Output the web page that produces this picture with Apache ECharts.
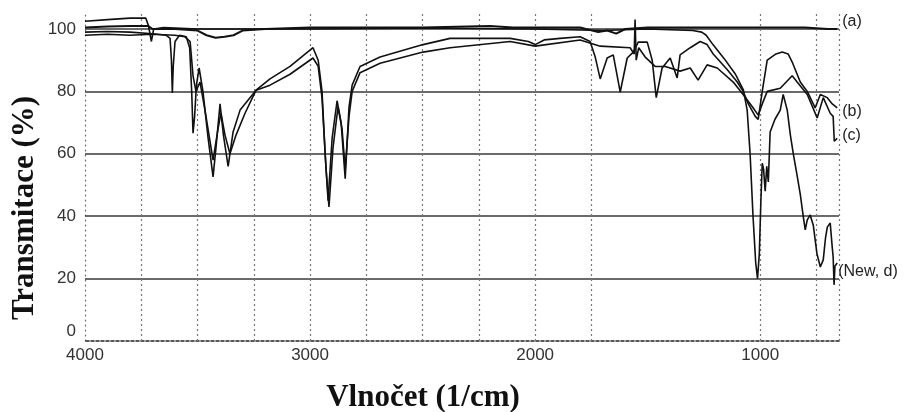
<!DOCTYPE html>
<html>
<head>
<meta charset="utf-8">
<script src="https://cdn.jsdelivr.net/npm/echarts@6/dist/echarts.min.js"></script>
<style>
  html, body { margin: 0; padding: 0; background: #fff; }
  #chart { width: 912px; height: 412px; }
</style>
</head>
<body>
<div id="chart"></div>
<script>
// IR spectra: [wavenumber (1/cm), transmittance (%)]
const curveA = [
  [4000, 100.5], [3900, 100.8], [3800, 101], [3720, 101], [3700, 100], [3600, 100],
  [3500, 99.5], [3460, 98], [3420, 97.2], [3380, 97.5], [3340, 98], [3300, 99.5],
  [3200, 100], [3000, 100.5], [2500, 100.5], [2200, 101], [2100, 100.5], [1800, 100.5],
  [1720, 99], [1680, 99.5], [1640, 98.5], [1600, 100], [1500, 100.5], [1250, 100.5],
  [1000, 100.5], [800, 100.5], [700, 100], [658, 100]
];
const curveB = [
  [4000, 99], [3900, 99.2], [3800, 99], [3700, 98.5], [3640, 98], [3622, 97], [3616, 90],
  [3612, 79.5], [3608, 88], [3600, 96], [3580, 98], [3550, 97.5], [3535, 94], [3526, 80],
  [3520, 66.6], [3513, 72], [3505, 82], [3493, 87.5], [3476, 80], [3453, 65], [3431, 52.6],
  [3418, 62], [3400, 76], [3385, 66], [3364, 56], [3342, 67], [3311, 74], [3267, 78],
  [3240, 80.4], [3178, 84], [3089, 88], [2987, 94], [2964, 90], [2947, 80], [2933, 60],
  [2920, 45], [2902, 65], [2880, 77], [2862, 70], [2844, 52], [2827, 75], [2813, 82],
  [2778, 88], [2689, 91], [2498, 95], [2378, 97], [2111, 97], [2030, 96], [2000, 95],
  [1960, 96.5], [1889, 97], [1800, 97.5], [1756, 96], [1733, 91], [1711, 84], [1680, 90.7],
  [1653, 91.7], [1622, 79.8], [1591, 90.7], [1564, 92.6], [1542, 95.8], [1502, 95.8],
  [1480, 90], [1462, 78], [1436, 87.5], [1400, 90.7], [1369, 84.3], [1356, 91.7],
  [1311, 94], [1267, 96], [1236, 95], [1209, 92], [1147, 87], [1102, 83], [1076, 80],
  [1053, 76], [1022, 72], [1009, 71], [991, 80], [969, 90], [930, 92], [902, 92.6],
  [876, 92], [858, 89.4], [822, 83], [791, 80], [756, 74.7], [733, 79], [702, 78],
  [680, 76], [658, 74.7]
];
const curveC = [
  [4000, 98], [3900, 98.3], [3800, 98], [3700, 98.3], [3600, 98], [3556, 97.5], [3533, 96],
  [3520, 85], [3507, 80], [3489, 83], [3467, 74], [3431, 58], [3409, 68], [3396, 73],
  [3378, 66], [3356, 60], [3329, 66], [3289, 73], [3240, 80.4], [3178, 82], [3089, 85.5],
  [2987, 90.7], [2964, 88], [2947, 78], [2929, 55], [2916, 43], [2898, 62], [2876, 75],
  [2858, 68], [2844, 55], [2827, 72], [2813, 80], [2778, 86], [2689, 89], [2498, 92.6],
  [2378, 94], [2111, 96], [2000, 94.5], [1800, 96.5], [1711, 94.5], [1578, 94], [1560, 92],
  [1556, 103], [1551, 90], [1540, 94], [1511, 91], [1467, 88], [1422, 88], [1356, 86.5],
  [1311, 87.5], [1276, 83.6], [1236, 88.5], [1191, 87.5], [1120, 83], [1076, 79],
  [1031, 74.7], [1009, 72.4], [991, 76], [969, 80], [911, 81], [858, 85], [836, 83],
  [791, 79], [747, 71.5], [720, 78], [689, 73], [676, 72], [671, 64], [658, 65]
];
const curveD = [
  [4000, 102.5], [3900, 103], [3800, 103.5], [3730, 103.5], [3718, 101], [3705, 96],
  [3695, 100], [3650, 100.5], [3500, 100], [3300, 100], [3000, 100], [2500, 100.3],
  [2000, 100], [1700, 99.5], [1500, 100], [1300, 99.5], [1260, 99], [1240, 98], [1210, 95],
  [1160, 90.5], [1110, 85.5], [1075, 80.5], [1058, 74], [1045, 60], [1032, 40], [1020, 25],
  [1012, 20], [1004, 28], [997, 45], [991, 57], [985, 55], [978, 48], [971, 56], [964, 51],
  [956, 67], [935, 71], [911, 74], [898, 79], [880, 74], [866, 66], [853, 60], [836, 53],
  [822, 47], [809, 40], [800, 35.6], [791, 38.8], [778, 40.4], [764, 37], [748, 28],
  [733, 23.7], [720, 26], [710, 33], [702, 36.5], [689, 37.8], [680, 30], [676, 27],
  [672, 18], [668, 24], [658, 25]
];

const xTickLabels = [4000, 3000, 2000, 1000];
const yTickLabels = [0, 20, 40, 60, 80, 100];
const hGridValues = [20, 40, 60, 80, 100];
const vGridValues = [3750, 3500, 3250, 3000, 2750, 2500, 2250, 2000, 1750, 1000, 750, 650];
const seriesNames = ['(a)', '(b)', '(c)', '(New, d)'];
const xTitle = 'Vlnočet (1/cm)';
const yTitle = 'Transmitace (%)';

const chart = echarts.init(document.getElementById('chart'), null, { renderer: 'canvas' });

const sansFont = 'Liberation Sans, Arial, sans-serif';
const serifFont = 'Liberation Serif, Times New Roman, serif';
const tickFont = { fontFamily: sansFont, fontSize: 17, color: '#333' };

const gridMarks = [];
hGridValues.forEach(v => gridMarks.push({ yAxis: v, lineStyle: { color: '#3a3a3a', width: 1.6, type: 'solid' } }));
vGridValues.forEach(v => gridMarks.push({ xAxis: v, lineStyle: { color: '#777', width: 1.2, type: [2, 3] } }));

function spectrum(name, data, offset, extra) {
  return Object.assign({
    name: name,
    type: 'line',
    data: data,
    showSymbol: false,
    symbol: 'none',
    z: 3,
    lineStyle: { color: '#111', width: 1.6 },
    endLabel: {
      show: true,
      formatter: name,
      align: 'left',
      verticalAlign: 'middle',
      distance: 0,
      offset: offset,
      fontFamily: sansFont,
      fontSize: 16,
      color: '#222'
    },
    emphasis: { disabled: true }
  }, extra || {});
}

chart.setOption({
  animation: false,
  backgroundColor: '#fff',
  grid: { left: 85, right: 73, top: 13.4, bottom: 71 },
  xAxis: {
    type: 'value',
    inverse: true,
    min: 650,
    max: 4000,
    axisLine: { show: true, lineStyle: { color: '#222', width: 1.6, type: [3, 2] } },
    axisTick: { show: false },
    splitLine: { show: false },
    axisLabel: { customValues: xTickLabels, margin: 6, formatter: v => String(v), ...tickFont }
  },
  yAxis: {
    type: 'value',
    min: 0,
    max: 105,
    axisLine: { show: true, lineStyle: { color: '#666', width: 1.2, type: [1, 4] } },
    axisTick: { show: false },
    splitLine: { show: false },
    axisLabel: {
      customValues: yTickLabels,
      margin: 9,
      ...tickFont,
      formatter: v => (v === 0 ? '{z|0}' : String(v)),
      rich: { z: { fontFamily: sansFont, fontSize: 17, color: '#333', padding: [0, 0, 20, 0] } }
    }
  },
  graphic: [
    {
      type: 'text',
      x: 423, y: 398,
      style: { text: xTitle, fontFamily: serifFont, fontWeight: 'bold', fontSize: 31, fill: '#111', align: 'center', verticalAlign: 'middle' }
    },
    {
      type: 'text',
      x: 25, y: 208,
      rotation: Math.PI / 2,
      style: { text: yTitle, fontFamily: serifFont, fontWeight: 'bold', fontSize: 31, fill: '#111', align: 'center', verticalAlign: 'middle' }
    }
  ],
  series: [
    spectrum(seriesNames[0], curveA, [5, -7], {
      lineStyle: { color: '#111', width: 2 },
      markLine: { silent: true, symbol: 'none', label: { show: false }, data: gridMarks, z: 1 }
    }),
    spectrum(seriesNames[1], curveB, [5, 4]),
    spectrum(seriesNames[2], curveC, [5, -3]),
    spectrum(seriesNames[3], curveD, [1, 9])
  ]
});
</script>
</body>
</html>
